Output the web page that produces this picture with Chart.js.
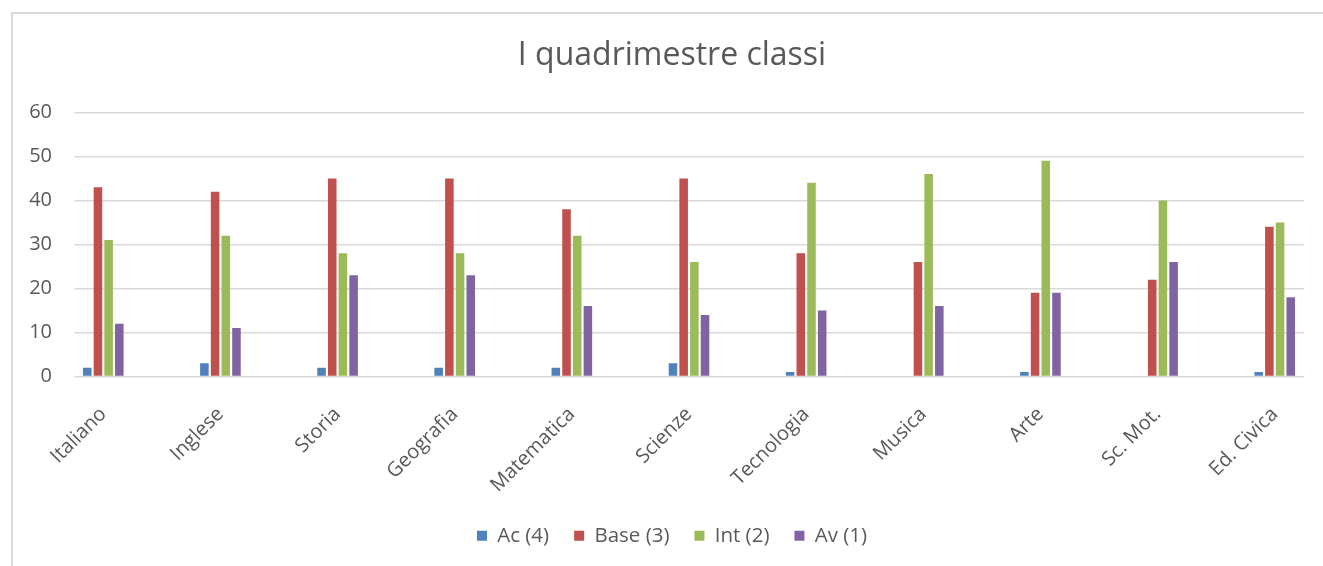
<!DOCTYPE html>
<html>
<head>
<meta charset="utf-8">
<script src="https://cdn.jsdelivr.net/npm/chart.js@4.4.0/dist/chart.umd.min.js"></script>
<style>
  html, body { margin: 0; padding: 0; background: #fff; overflow: hidden; }
  #frame {
    position: absolute; left: 11px; top: 12px; width: 1330px; height: 570px;
    border-left: 2px solid #d9d9d9; border-top: 2px solid #d9d9d9;
  }
  #chart { position: absolute; left: 0; top: 0; }
</style>
</head>
<body>
<div id="frame"></div>
<canvas id="chart" width="1344" height="566"></canvas>
<script>
// ===== Dati =====
const materie = ['Italiano', 'Inglese', 'Storia', 'Geografia', 'Matematica', 'Scienze',
  'Tecnologia', 'Musica', 'Arte', 'Sc. Mot.', 'Ed. Civica'];
const ac   = [2, 3, 2, 2, 2, 3, 1, 0, 1, 0, 1];
const base = [43, 42, 45, 45, 38, 45, 28, 26, 19, 22, 34];
const int2 = [31, 32, 28, 28, 32, 26, 44, 46, 49, 40, 35];
const av   = [12, 11, 23, 23, 16, 14, 15, 16, 19, 26, 18];
const yTicks = [0, 10, 20, 30, 40, 50, 60];

const FONT = 'Open Sans';
const GREY = '#595959';

// the bars sit on index positions of a linear axis
const punti = arr => arr.map((v, i) => ({ x: i, y: v }));

const ctx = document.getElementById('chart').getContext('2d');
new Chart(ctx, {
  type: 'bar',
  data: {
    datasets: [
      { label: 'Ac (4)',   data: punti(ac),   backgroundColor: '#4F81BD' },
      { label: 'Base (3)', data: punti(base), backgroundColor: '#C0504D' },
      { label: 'Int (2)',  data: punti(int2), backgroundColor: '#9BBB59' },
      { label: 'Av (1)',   data: punti(av),   backgroundColor: '#8064A2' }
    ]
  },
  options: {
    responsive: false,
    animation: false,
    categoryPercentage: 0.365,
    barPercentage: 0.8,
    layout: { padding: { left: 0, right: 0, top: 0, bottom: 10 } },
    plugins: {
      title: {
        display: true,
        text: 'I quadrimestre classi',
        color: GREY,
        font: { family: FONT, size: 32, weight: 'normal' },
        padding: { top: 37, bottom: 37 }
      },
      legend: {
        position: 'bottom',
        labels: {
          color: GREY,
          font: { family: FONT, size: 20.5 },
          boxWidth: 10,
          boxHeight: 10,
          padding: 25
        }
      },
      tooltip: { enabled: false }
    },
    scales: {
      x: {
        type: 'linear',
        min: -0.25,
        max: 10.25,
        offset: false,
        grid: { display: false },
        border: { display: false },
        afterBuildTicks: s => { s.ticks = materie.map((m, i) => ({ value: i })); },
        afterFit: s => { s.height = 124; },
        ticks: {
          autoSkip: false,
          minRotation: 45,
          maxRotation: 45,
          padding: 18,
          color: GREY,
          font: { family: FONT, size: 20 },
          callback: v => materie[v]
        }
      },
      y: {
        min: 0,
        max: 60,
        afterBuildTicks: s => { s.ticks = yTicks.map(v => ({ value: v })); },
        afterFit: s => { s.width = 74; },
        grid: { color: '#d9d9d9', lineWidth: 1.5, drawTicks: false },
        border: { display: false },
        ticks: {
          padding: 22,
          color: GREY,
          font: { family: FONT, size: 20 }
        }
      },
      // empty right margin so the title and legend centre on the frame
      margine: {
        position: 'right',
        grid: { display: false },
        border: { display: false },
        ticks: { display: false },
        afterFit: s => { s.width = 40; }
      }
    }
  }
});
</script>
</body>
</html>
